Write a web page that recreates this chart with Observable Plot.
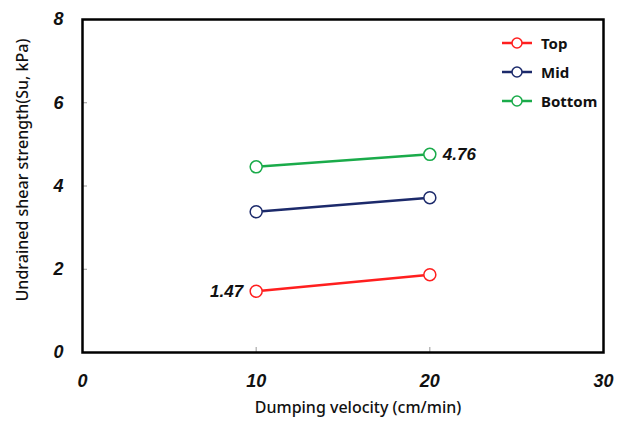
<!DOCTYPE html>
<html><head><meta charset="utf-8">
<script src="https://cdn.jsdelivr.net/npm/d3@7"></script>
<script src="https://cdn.jsdelivr.net/npm/@observablehq/plot@0.6"></script>
<style>
body{margin:0;background:#fff;}
#wrap{position:relative;width:618px;height:426px;}
#legend{position:absolute;left:501px;top:28px;font-family:"Noto Sans",sans-serif;font-weight:bold;font-size:15px;color:#111;}
#legend .row{display:flex;align-items:center;height:29px;}
#legend svg{margin-right:8px;}
</style></head><body><div id="wrap"><div id="legend"></div></div>
<script>
const series = ["Top", "Mid", "Bottom"];
const colors = ["#ff1f1f", "#1c2a6b", "#1aab4a"];
const velocity = [10, 20];
const topValues = [1.47, 1.87];
const midValues = [3.38, 3.72];
const bottomValues = [4.46, 4.76];
const xTicks = [0, 10, 20, 30];
const yTicks = [0, 2, 4, 6, 8];
const annotationsLeft = [{series: "Top", x: 10, y: 1.47, label: "1.47"}];
const annotationsRight = [{series: "Bottom", x: 20, y: 4.76, label: "4.76"}];

const valuesBySeries = {Top: topValues, Mid: midValues, Bottom: bottomValues};
const rows = series.flatMap(s => velocity.map((v, i) => ({series: s, x: v, y: valuesBySeries[s][i]})));

const W = 618, H = 426, mL = 82, mR = 15, mT = 19, mB = 74;
const pw = W - mL - mR, ph = H - mT - mB;
const numFont = {fontSize: 18, fontWeight: "bold", fontStyle: "italic"};
const labelFont = {fontSize: 16, fontWeight: 500, fontFamily: "'Noto Sans', sans-serif"};

const chart = Plot.plot({
  width: W, height: H,
  marginLeft: mL, marginRight: mR, marginTop: mT, marginBottom: mB,
  style: {fontFamily: "'Liberation Sans', Arial, sans-serif", color: "#111", background: "#fff"},
  x: {domain: [0, 30]},
  y: {domain: [0, 8]},
  color: {domain: series, range: colors},
  marks: [
    Plot.ruleY(yTicks.slice(1, -1), {y: d => d, stroke: "#999", strokeWidth: 1, insetRight: pw - 5}),
    Plot.ruleX(xTicks.slice(1, -1), {x: d => d, stroke: "#999", strokeWidth: 1, insetTop: ph - 5}),
    Plot.axisY({ticks: yTicks, tickSize: 0, tickPadding: 19, label: null, ...numFont}),
    Plot.axisX({ticks: xTicks, tickSize: 0, tickPadding: 22, label: null, ...numFont}),
    Plot.text(["Undrained shear strength(Su, kPa)"], {frameAnchor: "left", textAnchor: "middle", rotate: -90, dx: -60, dy: -16, ...labelFont, text: d => d}),
    Plot.text(["Dumping velocity (cm/min)"], {frameAnchor: "bottom", dy: 60, dx: 15, ...labelFont, text: d => d}),
    Plot.frame({stroke: "#000", strokeWidth: 2.5}),
    Plot.line(rows, {x: "x", y: "y", z: "series", stroke: "series", strokeWidth: 2.5}),
    Plot.dot(rows, {x: "x", y: "y", stroke: "series", fill: "white", r: 6, strokeWidth: 1.5}),
    Plot.text(annotationsLeft, {x: "x", y: "y", text: "label", textAnchor: "end", dx: -13, ...numFont, fontSize: 17}),
    Plot.text(annotationsRight, {x: "x", y: "y", text: "label", textAnchor: "start", dx: 13, ...numFont, fontSize: 17}),
  ]
});
document.getElementById("wrap").prepend(chart);

const legend = d3.select("#legend");
series.forEach((s, i) => {
  const row = legend.append("div").attr("class", "row");
  const svg = row.append("svg").attr("width", 32).attr("height", 14);
  svg.append("line").attr("x1", 1).attr("x2", 31).attr("y1", 7).attr("y2", 7).attr("stroke", colors[i]).attr("stroke-width", 2.5);
  svg.append("circle").attr("cx", 16).attr("cy", 7).attr("r", 5).attr("fill", "white").attr("stroke", colors[i]).attr("stroke-width", 1.5);
  row.append("span").text(s);
});
</script></body></html>
